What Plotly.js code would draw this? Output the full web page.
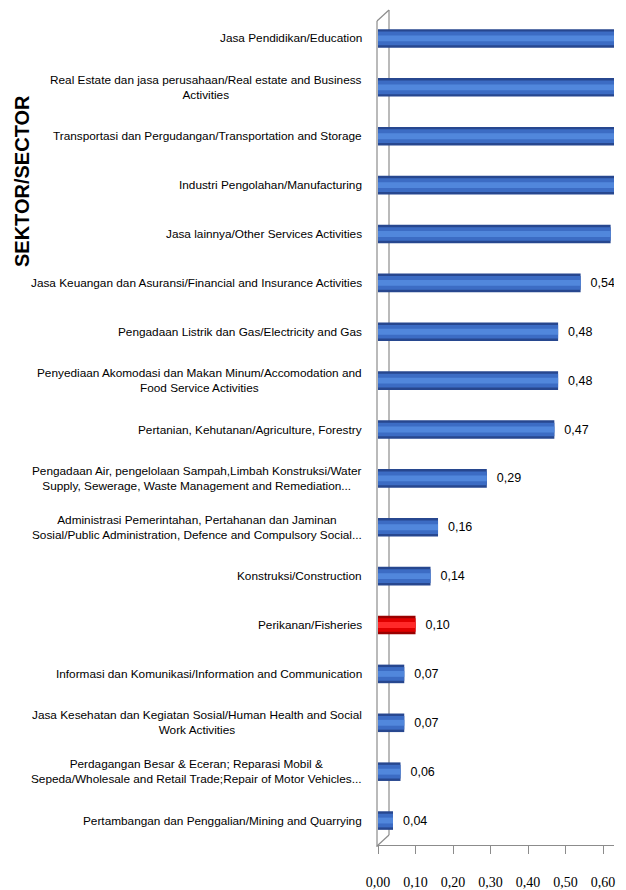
<!DOCTYPE html>
<html>
<head>
<meta charset="utf-8">
<script src="https://cdn.plot.ly/plotly-3.0.1.min.js"></script>
<style>html,body{margin:0;padding:0;background:#fff;}#chart{width:626px;height:890px;}</style>
</head>
<body>
<div id="chart"></div>
<script>
// Sectors, top to bottom
const sectors = [
  "Jasa Pendidikan/Education",
  "Real Estate dan jasa perusahaan/Real estate and Business<br>Activities",
  "Transportasi dan Pergudangan/Transportation and Storage",
  "Industri Pengolahan/Manufacturing",
  "Jasa lainnya/Other Services Activities",
  "Jasa Keuangan dan Asuransi/Financial and Insurance Activities",
  "Pengadaan Listrik dan Gas/Electricity and Gas",
  "Penyediaan Akomodasi dan Makan Minum/Accomodation and<br>Food Service Activities",
  "Pertanian, Kehutanan/Agriculture, Forestry",
  "Pengadaan Air, pengelolaan Sampah,Limbah Konstruksi/Water<br>Supply, Sewerage, Waste Management and Remediation...",
  "Administrasi Pemerintahan, Pertahanan dan Jaminan<br>Sosial/Public Administration, Defence and Compulsory Social...",
  "Konstruksi/Construction",
  "Perikanan/Fisheries",
  "Informasi dan Komunikasi/Information and Communication",
  "Jasa Kesehatan dan Kegiatan Sosial/Human Health and Social<br>Work Activities",
  "Perdagangan Besar & Eceran; Reparasi Mobil &<br>Sepeda/Wholesale and Retail Trade;Repair of Motor Vehicles...",
  "Pertambangan dan Penggalian/Mining and Quarrying"
];
// values (top bars run past the visible 0,60 edge; estimated)
const values = [0.95, 0.85, 0.75, 0.70, 0.62, 0.54, 0.48, 0.48, 0.47, 0.29, 0.16, 0.14, 0.10, 0.07, 0.07, 0.06, 0.04];
const highlight = "Perikanan/Fisheries";
const xTicks = [0, 0.1, 0.2, 0.3, 0.4, 0.5, 0.6];
const xMax = 0.629;
const axisTitle = "SEKTOR/SECTOR";

const esc = s => s.replace(/&/g, "&amp;");
const ids = sectors.map((s, i) => "c" + i);
const isHi = sectors.map(s => s === highlight);
const labelLimit = xTicks[xTicks.length - 1];

const shades = {
  dark:  isHi.map(h => h ? "#9a0000" : "#27478f"),
  mid:   isHi.map(h => h ? "#e00000" : "#3c6cc4"),
  light: isHi.map(h => h ? "#ff2a2a" : "#5187dc")
};
const fmt = v => v >= labelLimit ? "" : "\u00a0\u00a0" + v.toFixed(2).replace(".", ",");

const sans = "Liberation Sans, Arial, sans-serif";

const traces = [
  {type: "bar", orientation: "h", y: ids, x: values, width: 0.38,
   marker: {color: shades.dark}, text: values.map(fmt), textposition: "outside",
   textfont: {family: sans, size: 12.5, color: "#000"}, cliponaxis: true, hoverinfo: "skip"},
  {type: "bar", orientation: "h", y: ids, x: values, width: 0.28,
   marker: {color: shades.mid}, hoverinfo: "skip"},
  {type: "bar", orientation: "h", y: ids, x: values, width: 0.12,
   marker: {color: shades.light}, hoverinfo: "skip"}
];

// plot area geometry in px
const L = 378, R = 614, T = 14, B = 845, W = 626, H = 890;
const px = x => (x - L) / (R - L);
const py = y => (B - y) / (B - T);
const lineStyle = {color: "#8c8c8c", width: 1.2};
const shapes = [
  {type: "line", xref: "paper", yref: "paper", x0: px(377), y0: py(847), x1: px(377), y1: py(21), line: lineStyle, layer: "below"},
  {type: "line", xref: "paper", yref: "paper", x0: px(377), y0: py(21), x1: px(389), y1: py(10), line: lineStyle, layer: "below"},
  {type: "line", xref: "paper", yref: "paper", x0: px(389), y0: py(10), x1: px(389), y1: py(835), line: lineStyle, layer: "below"},
  {type: "line", xref: "paper", yref: "paper", x0: px(377), y0: py(846), x1: px(389), y1: py(835), line: lineStyle, layer: "below"}
];

const annotations = sectors.map((s, i) => ({
  xref: "paper", yref: "y", x: px(364), y: ids[i], xanchor: "right", yanchor: "middle",
  align: "center", showarrow: false, text: esc(s),
  font: {family: sans, size: 11.8, color: "#000"}
}));
annotations.push({
  xref: "paper", yref: "paper", x: px(22), y: py(181), xanchor: "center", yanchor: "middle",
  textangle: -90, showarrow: false, text: "<b>" + axisTitle + "</b>",
  font: {family: sans, size: 20, color: "#000"}
});

const layout = {
  width: W, height: H,
  margin: {l: L, r: W - R, t: T, b: H - B},
  paper_bgcolor: "#fff", plot_bgcolor: "rgba(0,0,0,0)",
  barmode: "overlay", showlegend: false, separators: ",.",
  xaxis: {range: [0, xMax], tickvals: xTicks, tickformat: ".2f", ticks: "outside", ticklen: 8,
          tickcolor: "#8c8c8c", showline: true, linecolor: "#8c8c8c", linewidth: 1.2,
          showgrid: false, zeroline: false, ticklabelstandoff: 16,
          tickfont: {family: "Liberation Serif, Times New Roman, serif", size: 14, color: "#000"}},
  yaxis: {type: "category", autorange: "reversed", showticklabels: false, showgrid: false,
          zeroline: false, showline: false, ticks: ""},
  shapes: shapes, annotations: annotations
};

Plotly.newPlot("chart", traces, layout, {displayModeBar: false, staticPlot: true});
</script>
</body>
</html>
